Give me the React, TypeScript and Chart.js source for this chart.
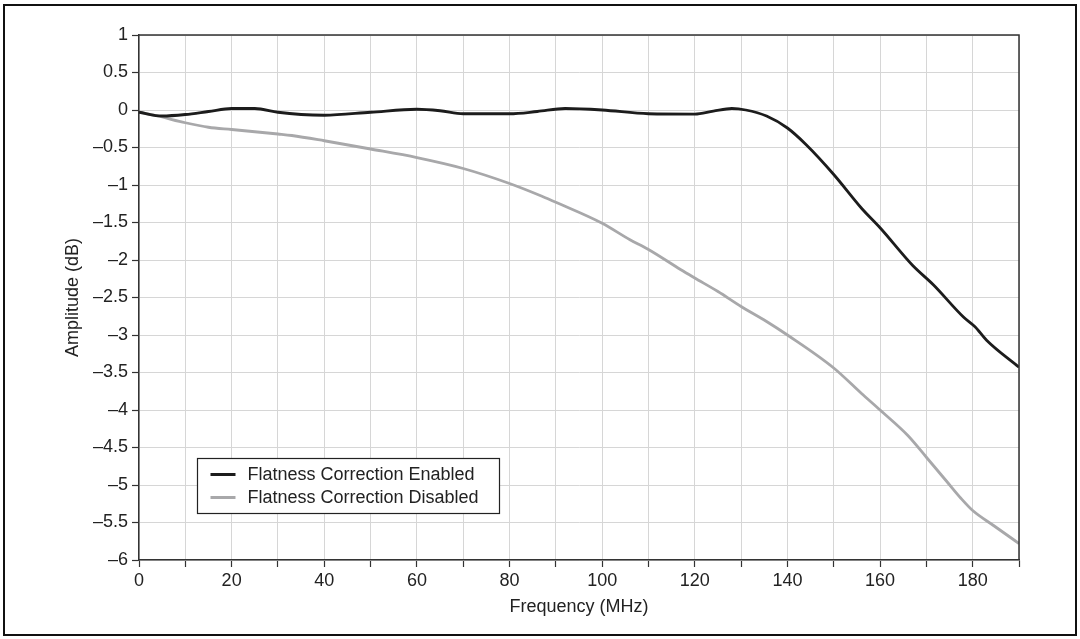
import React, { useEffect, useRef } from "react";
import { Chart, registerables } from "chart.js";

Chart.register(...registerables);

// ---- Data ----
const enabledFreq = [0, 5, 10, 15, 20, 25, 30, 35, 40, 50, 60, 65, 70, 80, 86, 92, 100, 110, 120, 124, 128, 131, 135.5, 140, 144, 150, 156, 160, 167, 171.5, 178, 180.5, 183, 190];
const enabledAmp = [-0.03, -0.08, -0.06, -0.02, 0.02, 0.02, -0.03, -0.06, -0.07, -0.03, 0.01, -0.01, -0.05, -0.05, -0.02, 0.02, 0.0, -0.05, -0.055, -0.015, 0.02, 0.0, -0.08, -0.24, -0.46, -0.86, -1.31, -1.57, -2.07, -2.33, -2.76, -2.89, -3.07, -3.43];

const disabledFreq = [0, 4, 10, 15, 20, 30, 33, 40, 50, 60, 70, 80, 87, 90, 100, 106, 110, 117, 120, 125, 130, 135.5, 140, 150, 156, 160, 166, 170, 174.5, 177.5, 180, 184.5, 190];
const disabledAmp = [-0.03, -0.08, -0.17, -0.23, -0.26, -0.32, -0.34, -0.41, -0.52, -0.635, -0.78, -0.98, -1.15, -1.23, -1.51, -1.73, -1.86, -2.13, -2.24, -2.42, -2.62, -2.82, -3.0, -3.44, -3.78, -4.0, -4.34, -4.63, -4.96, -5.18, -5.34, -5.54, -5.78];

const seriesLabels = ["Flatness Correction Enabled", "Flatness Correction Disabled"];
const xTitle = "Frequency (MHz)";
const yTitle = "Amplitude (dB)";
const xMin = 0, xMax = 190, xStep = 10, xLabelEvery = 20;
const yMin = -6, yMax = 1, yStep = 0.5;

const FONT = "'Liberation Sans', Arial, Helvetica, sans-serif";
const FS = 18;
const TEXT = "#222222";
const AXIS = "#333333";
const GRID = "#d6d6d6";

const frameAndLegend = {
  id: "frameAndLegend",
  afterDatasetsDraw(chart: any) {
    const { ctx, chartArea } = chart;
    const { left, right, top, bottom } = chartArea;
    ctx.save();
    // top & right plot frame
    ctx.strokeStyle = AXIS;
    ctx.lineWidth = 1.5;
    ctx.beginPath();
    ctx.moveTo(left, top);
    ctx.lineTo(right, top);
    ctx.lineTo(right, bottom);
    ctx.stroke();

    // legend box
    const bx = left + 58.5, by = bottom - 101.5, bw = 302, bh = 55;
    ctx.fillStyle = "#ffffff";
    ctx.fillRect(bx, by, bw, bh);
    ctx.strokeStyle = TEXT;
    ctx.lineWidth = 1.2;
    ctx.strokeRect(bx, by, bw, bh);
    ctx.font = `${FS}px ${FONT}`;
    ctx.textBaseline = "middle";
    ctx.textAlign = "left";
    chart.data.datasets.forEach((ds: any, i: number) => {
      const y = by + 16 + i * 23;
      ctx.strokeStyle = ds.borderColor;
      ctx.lineWidth = 3;
      ctx.beginPath();
      ctx.moveTo(bx + 13, y);
      ctx.lineTo(bx + 38, y);
      ctx.stroke();
      ctx.fillStyle = TEXT;
      ctx.fillText(ds.label, bx + 50, y + 1);
    });
    ctx.restore();
  },
};

export default function App() {
  const canvasRef = useRef<HTMLCanvasElement | null>(null);

  useEffect(() => {
    const canvas = canvasRef.current;
    if (!canvas) return;
    const chart = new Chart(canvas, {
      type: "line",
      data: {
        datasets: [
          {
            label: seriesLabels[0],
            data: enabledFreq.map((f, i) => ({ x: f, y: enabledAmp[i] })),
            borderColor: "#1c1c1c",
            borderWidth: 2.8,
            pointRadius: 0,
            tension: 0.4,
            cubicInterpolationMode: "monotone",
            fill: false,
            order: 1,
          },
          {
            label: seriesLabels[1],
            data: disabledFreq.map((f, i) => ({ x: f, y: disabledAmp[i] })),
            borderColor: "#a8a8aa",
            borderWidth: 2.8,
            pointRadius: 0,
            tension: 0.4,
            cubicInterpolationMode: "monotone",
            fill: false,
            order: 2,
          },
        ],
      },
      options: {
        animation: false,
        responsive: false,
        devicePixelRatio: 1,
        layout: { padding: { top: 35, right: 61, left: 0, bottom: 0 } },
        plugins: { legend: { display: false }, tooltip: { enabled: false } },
        scales: {
          x: {
            type: "linear",
            min: xMin,
            max: xMax,
            afterFit: (s: any) => { s.height = 79; },
            afterBuildTicks: (s: any) => {
              const t = [];
              for (let v = xMin; v <= xMax + 1e-9; v += xStep) t.push({ value: v });
              s.ticks = t;
            },
            grid: { color: GRID, lineWidth: 1, tickColor: AXIS, tickLength: 7, tickWidth: 1.2 },
            border: { display: true, color: AXIS, width: 1.5 },
            ticks: {
              color: TEXT,
              font: { family: FONT, size: FS },
              padding: 3,
              maxRotation: 0,
              autoSkip: false,
              callback: (v: any) => (Math.round(v) % xLabelEvery === 0 && v < xMax ? String(v) : ""),
            },
            title: {
              display: true,
              text: xTitle,
              color: TEXT,
              font: { family: FONT, size: FS },
              padding: { top: 0, bottom: 21 },
            },
          },
          y: {
            type: "linear",
            min: yMin,
            max: yMax,
            afterFit: (s: any) => { s.width = 139; },
            afterBuildTicks: (s: any) => {
              const t = [];
              for (let v = yMin; v <= yMax + 1e-9; v += yStep) t.push({ value: Math.round(v * 10) / 10 });
              s.ticks = t;
            },
            grid: { color: GRID, lineWidth: 1, tickColor: AXIS, tickLength: 7, tickWidth: 1.2 },
            border: { display: true, color: AXIS, width: 1.5 },
            ticks: {
              color: TEXT,
              font: { family: FONT, size: FS },
              padding: 4,
              autoSkip: false,
              callback: (v: any) => {
                const n = Math.round(Number(v) * 10) / 10;
                return n < 0 ? "\u2013" + String(Math.abs(n)) : String(n);
              },
            },
            title: {
              display: true,
              text: yTitle,
              color: TEXT,
              font: { family: FONT, size: FS },
              padding: { top: 62, bottom: 0 },
            },
          },
        },
      },
      plugins: [frameAndLegend],
    });
    return () => chart.destroy();
  }, []);

  return (
    <div style={{ position: "fixed", left: 0, top: 0, width: 1080, height: 639, background: "#fff" }}>
      <canvas ref={canvasRef} width={1080} height={639} style={{ position: "absolute", left: 0, top: 0, width: 1080, height: 639 }} />
      <div
        style={{
          position: "absolute",
          left: 3,
          top: 4,
          width: 1074 - 4,
          height: 632 - 4,
          border: "2px solid #111",
          pointerEvents: "none",
        }}
      />
    </div>
  );
}
